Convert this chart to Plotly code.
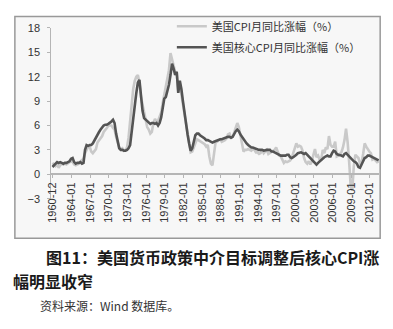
import pandas as pd
import plotly.graph_objects as go

# Quarterly observations, Dec-1960 first, then Mar/Jun/Sep/Dec of each year
start_month = "1960-12-01"

cpi_yoy = [
    1.4,
    1.2, 1.0, 1.2, 0.8,   # 1961
    1.1, 1.3, 1.2, 1.3,   # 1962
    1.2, 1.3, 1.4, 1.6,   # 1963
    1.5, 1.2, 1.1, 1.2,   # 1964
    1.3, 1.6, 1.7, 1.9,   # 1965
    2.6, 3.0, 3.4, 3.4,   # 1966
    2.8, 2.6, 2.8, 3.1,   # 1967
    3.9, 4.2, 4.5, 4.7,   # 1968
    5.2, 5.4, 5.7, 6.0,   # 1969
    6.0, 6.0, 5.7, 5.5,   # 1970
    4.6, 4.0, 3.3, 3.1,   # 1971
    3.2, 2.9, 3.0, 3.3,   # 1972
    4.5, 6.5, 9.0, 10.5,  # 1973
    11.5, 12.0, 12.2, 11.3,  # 1974
    9.5, 8.5, 7.5, 6.5,   # 1975
    5.8, 5.5, 5.0, 5.2,   # 1976
    6.3, 6.8, 6.5, 6.6,   # 1977
    7.0, 7.6, 8.8, 9.8,   # 1978
    10.5, 11.5, 12.8, 14.9,  # 1979
    14.2, 13.2, 12.6, 12.5,  # 1980
    10.2, 11.0, 9.8, 8.6,    # 1981
    7.0, 6.0, 4.6, 3.5,   # 1982
    2.7, 2.8, 3.3, 3.9,   # 1983
    4.3, 4.2, 4.1, 4.0,   # 1984
    3.8, 3.7, 3.4, 3.6,   # 1985
    2.2, 1.3, 1.1, 2.8,   # 1986
    3.9, 4.0, 4.2, 4.3,   # 1987
    4.0, 4.1, 4.2, 4.4,   # 1988
    4.9, 5.0, 4.5, 4.6,   # 1989
    5.2, 5.9, 6.3, 5.8,   # 1990
    4.9, 3.6, 2.8, 3.0,   # 1991
    3.0, 3.1, 3.0, 2.9,   # 1992
    3.1, 3.0, 2.7, 2.7,   # 1993
    2.5, 2.6, 3.0, 2.6,   # 1994
    2.8, 3.0, 2.5, 2.6,   # 1995
    2.8, 2.8, 3.0, 3.3,   # 1996
    2.8, 2.3, 2.2, 1.8,   # 1997
    1.4, 1.6, 1.5, 1.6,   # 1998
    1.7, 2.0, 2.6, 3.0,   # 1999
    3.8, 3.4, 3.5, 3.4,   # 2000
    2.9, 2.0, 1.5, 1.3,   # 2001
    1.6, 1.2, 1.6, 2.4,   # 2002
    3.1, 2.1, 2.3, 1.8,   # 2003
    1.8, 3.0, 2.6, 3.3,   # 2004
    3.1, 4.7, 3.6, 3.4,   # 2005
    3.4, 4.0, 2.2, 2.3,   # 2006
    2.5, 2.7, 3.3, 4.2,   # 2007
    5.6, 4.0, 1.5, -1.5,  # 2008
    -2.0, 1.0, 2.4, 2.2,  # 2009
    2.0, 1.3, 1.4, 2.5,   # 2010
    3.8, 3.4, 3.0, 2.8,   # 2011
    2.6, 1.8, 1.9, 1.7,   # 2012
    1.5, 1.6,             # 2013
]

core_yoy = [
    0.9,
    1.1, 1.4, 1.5, 1.4,   # 1961
    1.5, 1.4, 1.3, 1.4,   # 1962
    1.4, 1.5, 1.6, 1.9,   # 1963
    2.0, 1.5, 1.3, 1.4,   # 1964
    1.4, 1.5, 1.3, 1.4,   # 1965
    3.0, 3.6, 3.5, 3.6,   # 1966
    3.6, 3.8, 4.2, 4.4,   # 1967
    4.8, 5.2, 5.5, 5.8,   # 1968
    6.0, 6.1, 6.1, 6.2,   # 1969
    6.3, 6.5, 6.7, 6.3,   # 1970
    5.0, 4.0, 3.2, 3.0,   # 1971
    3.0, 2.9, 2.9, 3.0,   # 1972
    3.2, 3.6, 5.0, 6.4,   # 1973
    8.4, 10.0, 11.3, 11.6,  # 1974
    9.6, 7.8, 6.9, 6.7,   # 1975
    6.5, 6.4, 6.2, 6.3,   # 1976
    6.3, 6.2, 6.3, 6.0,   # 1977
    6.3, 7.0, 8.5, 9.3,   # 1978
    9.5, 10.2, 11.0, 12.2,  # 1979
    13.6, 13.0, 12.2, 12.6,  # 1980
    10.0, 11.5, 10.5, 9.0,   # 1981
    7.5, 6.0, 4.9, 3.8,   # 1982
    2.9, 3.2, 4.2, 4.8,   # 1983
    5.0, 5.0, 4.8, 4.7,   # 1984
    4.6, 4.4, 4.2, 4.2,   # 1985
    4.1, 4.0, 3.9, 4.0,   # 1986
    4.1, 4.2, 4.3, 4.3,   # 1987
    4.3, 4.4, 4.5, 4.5,   # 1988
    4.6, 4.6, 4.5, 4.6,   # 1989
    5.0, 5.3, 5.5, 5.3,   # 1990
    4.9, 4.6, 4.3, 4.1,   # 1991
    3.8, 3.6, 3.4, 3.3,   # 1992
    3.3, 3.2, 3.1, 3.1,   # 1993
    3.0, 3.0, 3.0, 2.9,   # 1994
    3.0, 3.0, 3.0, 3.0,   # 1995
    2.8, 2.8, 2.7, 2.6,   # 1996
    2.6, 2.5, 2.3, 2.3,   # 1997
    2.3, 2.3, 2.4, 2.4,   # 1998
    2.1, 2.0, 2.1, 2.2,   # 1999
    2.4, 2.6, 2.7, 2.7,   # 2000
    2.6, 2.5, 2.6, 2.4,   # 2001
    2.2, 2.0, 1.8, 1.5,   # 2002
    1.3, 1.2, 1.4, 1.6,   # 2003
    1.7, 2.0, 2.1, 2.2,   # 2004
    2.3, 2.2, 2.2, 2.6,   # 2005
    2.9, 2.8, 2.5, 2.4,   # 2006
    2.3, 2.3, 2.2, 2.5,   # 2007
    2.6, 2.4, 2.1, 1.9,   # 2008
    1.8, 1.6, 1.5, 1.3,   # 2009
    0.9, 0.8, 1.2, 1.6,   # 2010
    2.0, 2.1, 2.3, 2.3,   # 2011
    2.2, 2.0, 1.9, 1.8,   # 2012
    1.8, 1.7,             # 2013
]

tick_labels = ["1960-12", "1964-01", "1967-01", "1970-01", "1973-01", "1976-01",
               "1979-01", "1982-01", "1985-01", "1988-01", "1991-01", "1994-01",
               "1997-01", "2000-01", "2003-01", "2006-01", "2009-01", "2012-01"]
y_ticks = [-3, 0, 3, 6, 9, 12, 15, 18]

name_cpi = "美国CPI月同比涨幅（%）"
name_core = "美国核心CPI月同比涨幅（%）"

assert len(cpi_yoy) == len(core_yoy)
dates = pd.date_range(start_month, periods=len(cpi_yoy), freq="3MS")

W, H = 393, 329
# plot box in pixels
px_l, px_r = 47, 379
py_top, py_bot = 22.7, 200.0
y_min, y_max = -3, 18
dom_y = [1 - py_bot / H, 1 - py_top / H]
zero_pos = dom_y[0] + (0 - y_min) / (y_max - y_min) * (dom_y[1] - dom_y[0])

fig = go.Figure()
fig.add_trace(go.Scatter(
    x=dates, y=cpi_yoy, mode="lines", name=name_cpi, legendgroup="a",
    line=dict(color="#c9c9c9", width=2.6),
))
fig.add_trace(go.Scatter(
    x=dates, y=core_yoy, mode="lines", name=name_core, legendgroup="b",
    line=dict(color="#545454", width=2.6),
))

axis_font = dict(family="Liberation Sans, Arial, sans-serif", size=11, color="#333333")

fig.update_layout(
    width=W, height=H,
    margin=dict(l=0, r=0, t=0, b=0),
    paper_bgcolor="white",
    plot_bgcolor="rgba(0,0,0,0)",
    showlegend=True,
    legend=dict(
        x=169 / W, y=1 - 6 / H, xanchor="left", yanchor="top",
        bgcolor="rgba(0,0,0,0)", tracegroupgap=2, itemwidth=30,
        font=dict(family="Noto Sans CJK SC", size=11, color="#333333"),
    ),
    xaxis=dict(
        type="date",
        domain=[px_l / W, px_r / W],
        range=["1960-10-01", "2013-07-01"],
        anchor="free", position=zero_pos,
        tickmode="array",
        tickvals=[pd.Timestamp(t + "-01") for t in tick_labels],
        ticktext=tick_labels,
        tickangle=-90,
        ticks="outside", ticklen=3, tickcolor="#b5b5b5",
        showline=True, linecolor="#b5b5b5", linewidth=1.5,
        showgrid=False, zeroline=False,
        tickfont=axis_font,
    ),
    yaxis=dict(
        domain=dom_y,
        range=[y_min, y_max],
        tickmode="array", tickvals=y_ticks,
        ticks="outside", ticklen=3, tickcolor="#b5b5b5",
        ticklabelstandoff=5,
        showline=True, linecolor="#b5b5b5", linewidth=1.2,
        showgrid=False, zeroline=False,
        tickfont=axis_font,
    ),
    shapes=[dict(
        type="rect", xref="paper", yref="paper", layer="below",
        x0=10 / W, x1=380 / W, y0=1 - 241 / H, y1=1 - 11 / H,
        fillcolor="#f7f7f7", line=dict(color="#999999", width=1.5),
    )],
    annotations=[
        dict(text="图11：美国货币政策中介目标调整后核心CPI涨",
             xref="paper", yref="paper", x=39 / W, y=1 - 260 / H,
             xanchor="left", yanchor="middle", showarrow=False,
             font=dict(family="Noto Sans CJK SC", size=16, color="#1a1a1a", weight="bold")),
        dict(text="幅明显收窄",
             xref="paper", yref="paper", x=6 / W, y=1 - 285 / H,
             xanchor="left", yanchor="middle", showarrow=False,
             font=dict(family="Noto Sans CJK SC", size=16, color="#1a1a1a", weight="bold")),
        dict(text="资料来源：Wind 数据库。",
             xref="paper", yref="paper", x=33 / W, y=1 - 310.5 / H,
             xanchor="left", yanchor="middle", showarrow=False,
             font=dict(family="Noto Sans CJK SC", size=12, color="#333333")),
    ],
)

fig.write_html("out.html")
